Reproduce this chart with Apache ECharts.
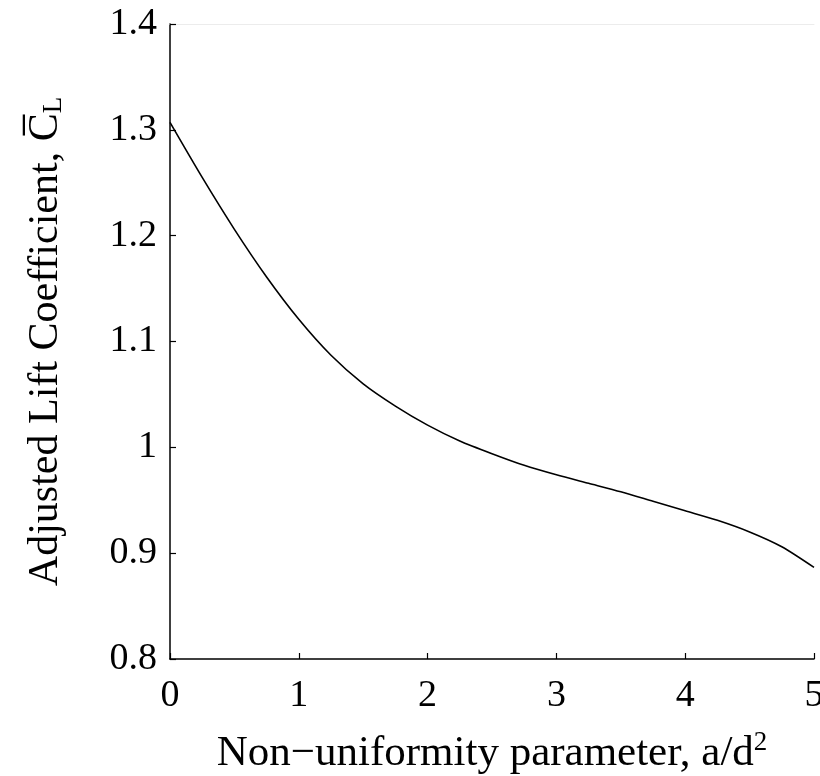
<!DOCTYPE html>
<html><head><meta charset="utf-8">
<script src="https://cdn.jsdelivr.net/npm/echarts@6/dist/echarts.min.js"></script>
<style>html,body{margin:0;padding:0;background:#fff}#c{width:820px;height:776px}</style>
</head><body><div id="c"></div>
<script>
const xValues = [0, 0.25, 0.5, 0.75, 1.0, 1.25, 1.5, 1.75, 2.0, 2.25, 2.5, 2.75, 3.0, 3.25, 3.5, 3.75, 4.0, 4.25, 4.5, 4.75, 5.0];
const liftCoeff = [1.307, 1.255, 1.206, 1.161, 1.121, 1.087, 1.060, 1.039, 1.021, 1.006, 0.994, 0.983, 0.974, 0.966, 0.958, 0.949, 0.940, 0.931, 0.920, 0.906, 0.8865];
const yTicks = [0.8, 0.9, 1, 1.1, 1.2, 1.3, 1.4];
const xTicks = [0, 1, 2, 3, 4, 5];

const font = '"Liberation Serif", "Times New Roman", serif';
const chart = echarts.init(document.getElementById('c'));
chart.setOption({
  animation: false,
  backgroundColor: '#fff',
  grid: { left: 170, right: 6, top: 24, bottom: 117, show: false, outerBoundsMode: 'none', containLabel: false },
  xAxis: [{
    type: 'value', min: 0, max: 5, interval: 1,
    nameLocation: 'middle', nameGap: 70,
    name: '{t|Non\u2212uniformity parameter, a/d}{sup|2}',
    nameTextStyle: { rich: {
      t: { fontFamily: font, fontSize: 43, color: '#000' },
      sup: { fontFamily: font, fontSize: 27, color: '#000', padding: [0, 0, 22, 0] }
    }},
    axisLine: { lineStyle: { color: '#000', width: 1.5 } },
    axisTick: { inside: true, length: 6, lineStyle: { color: '#000', width: 1.2 } },
    axisLabel: { fontFamily: font, fontSize: 38, color: '#000', margin: 18,
      formatter: v => xTicks.includes(v) ? String(v) : '' },
    splitLine: { show: false }
  }, {
    type: 'value', position: 'top', min: 0, max: 5,
    axisLine: { show: true, lineStyle: { color: '#ececec', width: 1 } },
    axisTick: { show: false }, axisLabel: { show: false }, splitLine: { show: false }
  }],
  yAxis: {
    type: 'value', min: 0.8, max: 1.4, interval: 0.1,
    nameLocation: 'middle', nameGap: 103, nameRotate: 90,
    name: '{t|Adjusted Lift Coefficient, }{c|C\u0305}{sub|L}',
    nameTextStyle: { rich: {
      t: { fontFamily: font, fontSize: 42, color: '#000' },
      c: { fontFamily: font, fontSize: 42, color: '#000' },
      sub: { fontFamily: font, fontSize: 27, color: '#000', padding: [16, 0, 0, 0] }
    }},
    axisLine: { show: true, lineStyle: { color: '#000', width: 1.5 } },
    axisTick: { show: true, inside: true, length: 6, lineStyle: { color: '#000', width: 1.2 } },
    axisLabel: { fontFamily: font, fontSize: 38, color: '#000', margin: 13,
      formatter: v => { const t = yTicks.find(k => Math.abs(k - v) < 1e-6); return t === undefined ? '' : String(t); } },
    splitLine: { show: false }
  },
  series: [{
    type: 'line',
    data: xValues.map((x, i) => [x, liftCoeff[i]]),
    smooth: 0.25,
    showSymbol: false,
    lineStyle: { color: '#000', width: 1.6 }
  }]
});
</script></body></html>
